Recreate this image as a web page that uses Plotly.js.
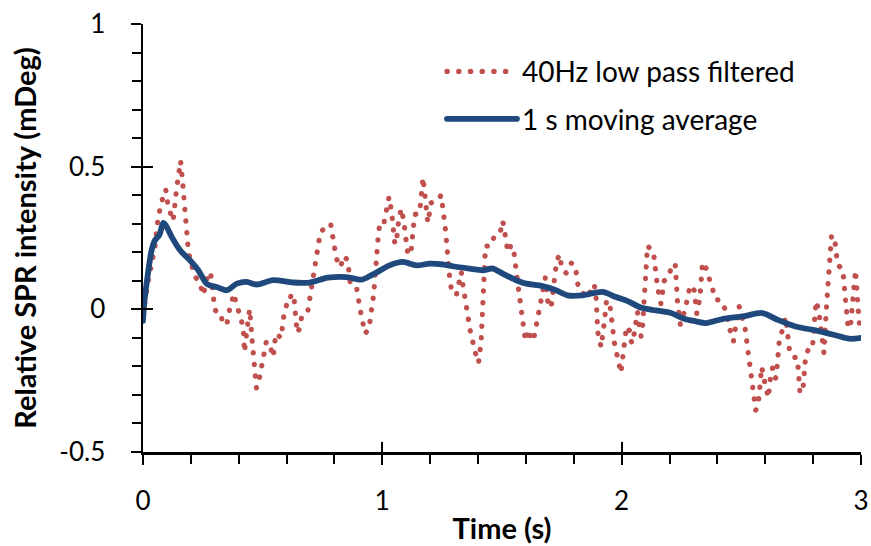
<!DOCTYPE html>
<html>
<head>
<meta charset="utf-8">
<script src="https://cdn.plot.ly/plotly-3.0.1.min.js"></script>
<style>
  html, body { margin: 0; padding: 0; background: #fff; }
  #chart { width: 871px; height: 546px; }
  .js-line { stroke-linecap: round !important; stroke-linejoin: round !important; }
</style>
</head>
<body>
<div id="chart"></div>
<script>
// ---- data ----
const seriesNames = ["40Hz low pass filtered", "1 s moving average"];

const filteredTime = [
  0.000,0.022,0.050,0.060,0.075,0.095,0.105,0.126,0.140,0.150,0.157,0.165,0.175,0.190,0.214,0.238,0.252,0.270,0.282,0.292,
  0.300,0.315,0.326,0.335,0.352,0.362,0.380,0.392,0.408,0.419,0.424,0.436,0.446,0.455,0.465,0.474,0.488,0.505,0.515,0.527,
  0.544,0.555,0.577,0.588,0.600,0.610,0.620,0.631,0.644,0.652,0.662,0.687,0.710,0.741,0.766,0.784,0.808,0.825,0.839,0.855,
  0.866,0.892,0.908,0.928,0.944,0.964,0.983,0.989,1.005,1.028,1.038,1.044,1.052,1.058,1.068,1.079,1.089,1.107,1.121,1.135,
  1.156,1.170,1.181,1.190,1.204,1.228,1.246,1.264,1.281,1.288,1.309,1.318,1.330,1.336,1.343,1.367,1.389,1.402,1.413,1.423,
  1.431,1.452,1.468,1.492,1.503,1.517,1.524,1.538,1.548,1.566,1.584,1.598,1.612,1.622,1.632,1.649,1.674,1.681,1.691,1.705,
  1.728,1.740,1.749,1.768,1.789,1.806,1.820,1.844,1.865,1.872,1.886,1.893,1.900,1.914,1.927,1.937,1.952,1.969,1.997,2.015,
  2.020,2.032,2.042,2.053,2.066,2.073,2.081,2.087,2.094,2.104,2.108,2.133,2.150,2.164,2.178,2.199,2.210,2.224,2.233,2.245,
  2.266,2.286,2.303,2.314,2.327,2.338,2.349,2.379,2.393,2.414,2.435,2.456,2.467,2.474,2.491,2.516,2.535,2.553,2.560,2.571,
  2.585,2.599,2.613,2.623,2.630,2.641,2.646,2.658,2.685,2.702,2.716,2.734,2.745,2.758,2.769,2.783,2.797,2.808,2.813,2.824,
  2.845,2.856,2.877,2.891,2.902,2.924,2.946,2.956,2.977,2.987,2.995
];
const filteredValue = [
  -0.020,0.100,0.220,0.300,0.370,0.420,0.360,0.310,0.420,0.490,0.520,0.450,0.330,0.200,0.120,0.090,0.050,0.120,0.130,0.050,
  0.000,-0.020,-0.020,-0.055,-0.045,0.000,0.055,0.010,-0.025,-0.070,-0.150,-0.060,0.000,-0.100,-0.210,-0.276,-0.235,-0.153,-0.115,-0.115,
  -0.167,-0.085,-0.100,-0.025,0.016,0.016,0.055,0.040,-0.083,-0.071,-0.030,-0.015,0.108,0.271,0.289,0.300,0.178,0.148,0.187,0.172,
  0.090,0.078,-0.004,-0.085,-0.068,0.053,0.257,0.298,0.295,0.394,0.347,0.271,0.230,0.230,0.312,0.353,0.312,0.190,0.210,0.332,
  0.338,0.462,0.386,0.304,0.373,0.380,0.400,0.277,0.113,0.073,0.049,0.090,0.131,0.090,0.049,-0.074,-0.153,-0.188,-0.109,0.098,
  0.222,0.222,0.256,0.268,0.310,0.242,0.201,0.225,0.213,0.090,-0.033,-0.111,-0.071,-0.109,-0.106,-0.025,0.098,0.110,0.029,0.005,
  0.168,0.192,0.148,0.127,0.162,0.154,0.070,0.052,0.043,0.084,0.084,0.043,-0.080,-0.132,-0.050,0.032,0.008,-0.115,-0.223,-0.100,
  -0.060,-0.074,-0.120,-0.083,-0.009,-0.054,-0.095,-0.064,0.018,0.181,0.223,0.200,0.077,0.020,0.100,0.119,0.160,0.154,0.029,-0.053,
  0.002,0.084,0.067,-0.015,0.041,0.164,0.154,0.073,0.034,0.032,-0.004,-0.085,-0.112,-0.071,0.010,-0.068,-0.190,-0.313,-0.354,-0.329,
  -0.202,-0.261,-0.310,-0.229,-0.206,-0.243,-0.237,-0.117,-0.027,-0.150,-0.167,-0.170,-0.294,-0.278,-0.159,-0.136,-0.136,-0.015,0.029,-0.009,
  -0.153,0.012,0.260,0.239,0.157,0.139,-0.066,-0.060,0.137,0.014,-0.068
];

const averageTime = [
  0.000,0.005,0.015,0.036,0.050,0.068,0.085,0.095,0.120,0.155,0.196,0.231,0.266,0.308,0.350,0.392,0.433,0.475,0.544,0.627,
  0.697,0.773,0.850,0.912,0.947,0.986,1.030,1.086,1.142,1.197,1.246,1.295,1.364,1.420,1.461,1.503,1.559,1.601,1.656,1.726,
  1.774,1.837,1.920,1.976,2.025,2.080,2.143,2.206,2.261,2.310,2.352,2.421,2.504,2.588,2.650,2.727,2.810,2.894,2.950,3.000
];
const averageValue = [
  -0.040,0.020,0.090,0.207,0.242,0.260,0.303,0.295,0.254,0.207,0.172,0.137,0.090,0.078,0.067,0.090,0.096,0.087,0.102,0.094,
  0.094,0.111,0.113,0.104,0.116,0.134,0.154,0.166,0.154,0.160,0.158,0.151,0.143,0.137,0.143,0.125,0.102,0.090,0.084,0.067,
  0.049,0.049,0.061,0.043,0.029,0.006,-0.004,-0.013,-0.033,-0.042,-0.048,-0.034,-0.025,-0.013,-0.036,-0.060,-0.074,-0.091,-0.103,-0.100
];

const xTickVals = [0, 1, 2, 3];
const xTickText = ["0", "1", "2", "3"];
const yTickVals = [-0.5, 0, 0.5, 1];
const yTickText = ["-0.5", "0", "0.5", "1"];

// ---- chart ----
const FONT = "Lato, 'Open Sans', sans-serif";
const RED = "#C0504D";
const BLUE = "#1F497D";

const traces = [
  {
    x: filteredTime, y: filteredValue, name: seriesNames[0],
    type: "scatter", mode: "lines", legendgroup: "a",
    line: { color: RED, width: 5.2, dash: "0.3px,11.4px" },
    hoverinfo: "skip"
  },
  {
    x: averageTime, y: averageValue, name: seriesNames[1],
    type: "scatter", mode: "lines", legendgroup: "b",
    line: { color: BLUE, width: 5.8, shape: "spline", smoothing: 0.8 },
    hoverinfo: "skip"
  },
  {
    x: [], y: [], xaxis: "x2", yaxis: "y2", showlegend: false,
    type: "scatter", mode: "lines", hoverinfo: "skip"
  }
];

const common = {
  showgrid: false, zeroline: false, fixedrange: true,
  tickfont: { family: FONT, size: 26, color: "#000" }
};

const layout = {
  width: 871, height: 546,
  margin: { l: 143, r: 10, t: 24, b: 94, pad: 0 },
  paper_bgcolor: "#fff", plot_bgcolor: "#fff",
  font: { family: FONT, color: "#000" },
  showlegend: true,
  legend: {
    x: 0.4164, y: 0.947, xanchor: "left", yanchor: "top",
    bgcolor: "rgba(0,0,0,0)", borderwidth: 0,
    font: { family: FONT, size: 28, color: "#000" },
    itemwidth: 70, traceorder: "grouped", tracegroupgap: 8
  },
  xaxis: Object.assign({}, common, {
    range: [0, 3], tickmode: "array", tickvals: xTickVals, ticktext: xTickText,
    showline: true, linecolor: "#000", linewidth: 2.5,
    ticks: "outside", ticklen: 10, tickwidth: 2, tickcolor: "#000",
    ticklabelstandoff: 14,
    minor: { ticks: "outside", ticklen: 9, tickwidth: 2, tickcolor: "#000", dtick: 0.2, tick0: 0, showgrid: false },
    title: { text: "<b>Time (s)</b>", font: { family: FONT, size: 29, color: "#000" }, standoff: 4 }
  }),
  yaxis: Object.assign({}, common, {
    range: [-0.5, 1], tickmode: "array", tickvals: yTickVals, ticktext: yTickText,
    showline: true, linecolor: "#000", linewidth: 2.5,
    ticks: "outside", ticklen: 10, tickwidth: 2, tickcolor: "#000",
    ticklabelstandoff: 20,
    minor: { ticks: "outside", ticklen: 9, tickwidth: 2, tickcolor: "#000", dtick: 0.1, tick0: 0, showgrid: false },
    title: { text: "<b>Relative SPR intensity (mDeg)</b>", font: { family: FONT, size: 29, color: "#000" }, standoff: 14 }
  }),
  xaxis2: Object.assign({}, common, {
    range: [0, 3], overlaying: "x", anchor: "y2", side: "bottom",
    tickmode: "array", tickvals: xTickVals, showticklabels: false, showline: false,
    ticks: "inside", ticklen: 10, tickwidth: 2, tickcolor: "#000"
  }),
  yaxis2: Object.assign({}, common, {
    range: [-0.5, 1], overlaying: "y", anchor: "x2", side: "left",
    tickmode: "array", tickvals: yTickVals, showticklabels: false, showline: false,
    ticks: "inside", ticklen: 10, tickwidth: 2, tickcolor: "#000"
  })
};

Plotly.newPlot("chart", traces, layout, { displayModeBar: false, staticPlot: true });
</script>
</body>
</html>
